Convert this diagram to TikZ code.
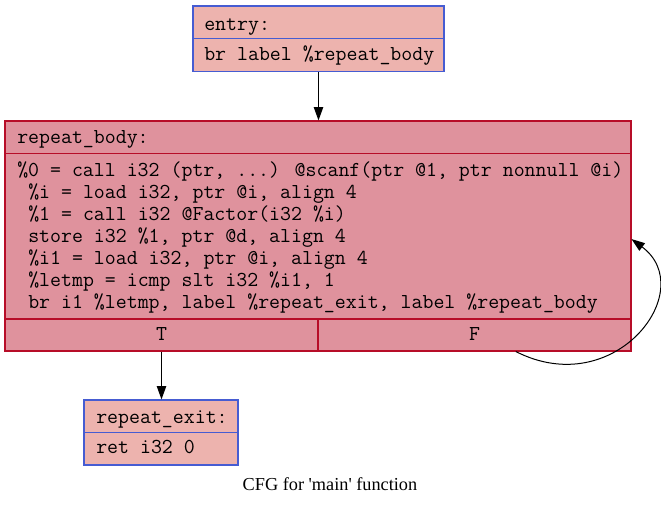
\documentclass[tikz,border=0pt]{standalone}
\usepackage{fontspec}
\setmainfont{Liberation Serif}
\usetikzlibrary{arrows.meta,fit}
\definecolor{lightfill}{RGB}{237,179,174}
\definecolor{lightborder}{RGB}{70,92,210}
\definecolor{darkfill}{RGB}{223,146,157}
\definecolor{darkborder}{RGB}{183,13,40}
\begin{document}
\begin{tikzpicture}[x=0.75pt,y=-0.75pt,
  lightcell/.style={draw=lightborder, fill=lightfill, line width=0.8pt, inner sep=0pt},
  darkcell/.style={draw=darkborder, fill=darkfill, line width=0.8pt, inner sep=0pt},
  code/.style={font=\ttfamily\fontsize{15.95}{18}\selectfont, anchor=base west, inner sep=0pt},
  port/.style={font=\ttfamily\fontsize{15.95}{18}\selectfont, anchor=base, inner sep=0pt},
  arr/.style={line width=0.75pt, -{Triangle[length=10pt,width=7pt]}}]
\useasboundingbox (0,0) rectangle (661,504);
% entry
\node[lightcell, fit={(193,6)(444,38.5)}] (entryhead) {};
\node[lightcell, fit={(193,38.5)(444,71.5)}] (entrybody) {};
\node[code] (t1) at (204,30) {entry:};
\node[code] (t2) at (204,60) {br label \%repeat\_body};
% repeat_body
\node[darkcell, fit={(5,121)(631,153.3)}] (bodyhead) {};
\node[darkcell, fit={(5,153.3)(631,319)}] (bodycode) {};
\node[darkcell, fit={(5,319)(318,351)}] (tcell) {};
\node[darkcell, fit={(318,319)(631,351)}] (fcell) {};
\node[code] (b0) at (17,143) {repeat\_body:};
\node[code] (b1) at (17,176) {\%0 = call i32 (ptr, ...) @scanf(ptr @1, ptr nonnull @i)};
\node[code] (b2) at (28,198) {\%i = load i32, ptr @i, align 4};
\node[code] (b3) at (28,220) {\%1 = call i32 @Factor(i32 \%i)};
\node[code] (b4) at (28,242) {store i32 \%1, ptr @d, align 4};
\node[code] (b5) at (28,264) {\%i1 = load i32, ptr @i, align 4};
\node[code] (b6) at (28,286) {\%letmp = icmp slt i32 \%i1, 1};
\node[code] (b7) at (28,308.3) {br i1 \%letmp, label \%repeat\_exit, label \%repeat\_body};
\node[port] (tl) at (161.5,340.5) {T};
\node[port] (fl) at (474.5,340.5) {F};
% repeat_exit
\node[lightcell, fit={(84,400)(238,432.5)}] (exithead) {};
\node[lightcell, fit={(84,432.5)(238,465)}] (exitbody) {};
\node[code] (e1) at (96,423) {repeat\_exit:};
\node[code] (e2) at (96,453) {ret i32 0};
% title
\node[anchor=base, inner sep=0pt, font=\fontsize{13.7}{16}\selectfont] (title) at (330,490) {CFG for \textquotesingle main\textquotesingle\ function};
% edges
\draw[arr] (entrybody.south) -- (entrybody.south |- bodyhead.north);
\draw[arr] (tcell.south) -- (tcell.south |- exithead.north);
\draw[arr] ([xshift=31pt]fcell.south) .. controls (615,402) and (700,290) .. ([yshift=-2.2pt]bodycode.east);
\end{tikzpicture}
\end{document}
